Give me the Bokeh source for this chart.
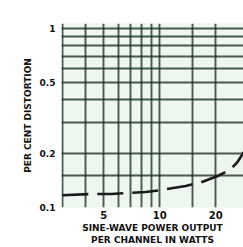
from bokeh.plotting import figure
from bokeh.models import Range1d, FixedTicker, CustomJSTickFormatter
from bokeh.embed import file_html
from bokeh.resources import INLINE

# Data (power per channel in watts, % distortion)
power_w = [3.0, 4.34, 5.49, 8.4, 10.1, 13.8, 16.6, 20.5, 24.0, 26.0, 28.2, 30.0]
distortion_pct = [0.117, 0.119, 0.119, 0.122, 0.125, 0.132, 0.138, 0.150, 0.163, 0.178, 0.202, 0.23]

x_ticks = [5, 10, 20]
y_ticks = [0.1, 0.2, 0.5, 1]
x_grid = [3, 4, 5, 6, 7, 8, 9, 10, 15, 20]
y_grid = [0.1, 0.15, 0.2, 0.3, 0.4, 0.5, 0.6, 0.7, 0.8, 0.9, 1.0]

FONT = "DejaVu Sans"

p = figure(width=243, height=247, x_axis_type="log", y_axis_type="log",
           x_range=Range1d(2.97, 28.2), y_range=Range1d(0.1, 1.066),
           output_backend="svg", toolbar_location=None,
           min_border_left=61, min_border_top=23, min_border_right=0, min_border_bottom=39)

p.background_fill_color = "#edf6ef"
p.border_fill_color = "white"
p.outline_line_color = None

p.xgrid.ticker = FixedTicker(ticks=x_grid)
p.ygrid.ticker = FixedTicker(ticks=y_grid)
for g in (p.xgrid, p.ygrid):
    g.grid_line_color = "#1f3327"
    g.grid_line_width = 1.9
    g.grid_line_alpha = 0.8

p.xaxis.ticker = FixedTicker(ticks=x_ticks)
p.yaxis.ticker = FixedTicker(ticks=y_ticks)
p.yaxis.formatter = CustomJSTickFormatter(code="return tick >= 1 ? tick.toFixed(0) : tick.toFixed(1);")
p.xaxis.formatter = CustomJSTickFormatter(code="return tick.toFixed(0);")

for ax in (p.xaxis, p.yaxis):
    ax.axis_line_color = None
    ax.major_tick_line_color = None
    ax.minor_tick_line_color = None
    ax.major_tick_out = 0
    ax.major_tick_in = 0
    ax.minor_tick_out = 0
    ax.major_label_text_font = FONT
    ax.major_label_text_font_style = "bold"
    ax.major_label_text_font_size = "9px"
    ax.major_label_text_color = "#111111"
    ax.axis_label_text_font = FONT
    ax.axis_label_text_font_style = "bold"
    ax.axis_label_text_font_size = "9px"
    ax.axis_label_text_color = "#111111"

p.xaxis.major_label_text_font_size = "10px"
p.yaxis.major_label_standoff = 6
p.yaxis.axis_label = "PER CENT DISTORTION"
p.yaxis.axis_label_standoff = 4
p.xaxis.major_label_standoff = 3
p.xaxis.axis_label = "SINE-WAVE POWER OUTPUT\nPER CHANNEL IN WATTS"
p.xaxis.axis_label_standoff = 1

p.line(power_w, distortion_pct, line_color="#1a1a1a", line_width=2.6, line_dash="26 9")

open("out.html", "w").write(file_html(p, INLINE))
